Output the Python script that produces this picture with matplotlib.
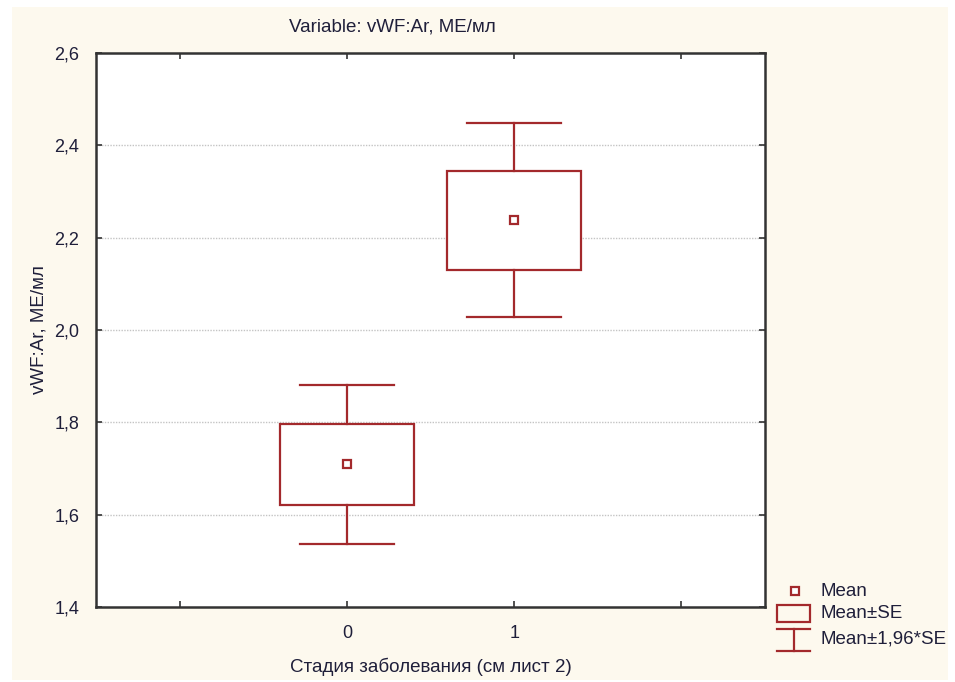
import matplotlib
matplotlib.use("Agg")
import matplotlib.pyplot as plt
from matplotlib.patches import Rectangle
from matplotlib.lines import Line2D
import numpy as np

# group summary: disease stage, mean and standard error of vWF:Ar
stages = [0, 1]
means = [1.709, 2.238]
se = [0.088, 0.107]
yticks = [1.4, 1.6, 1.8, 2.0, 2.2, 2.4, 2.6]

red = "#a3292c"
cream = "#fdf9ee"
txt = "#1f1f3a"

plt.rcParams["font.family"] = ["Liberation Sans", "DejaVu Sans"]

fig = plt.figure(figsize=(9.55, 6.82), dpi=100)
fig.patch.set_facecolor("white")
fig.patches.append(Rectangle((12 / 955, 2 / 682), 936 / 955, 673 / 682,
                             transform=fig.transFigure, facecolor=cream,
                             edgecolor="none", zorder=-10))

ax = fig.add_axes([96 / 955, 75 / 682, 669 / 955, 554 / 682])
ax.set_facecolor("white")
ax.set_xlim(-1.5, 2.5)
ax.set_ylim(1.4, 2.6)

box_w = 0.8
cap_w = 0.56
for x, m, s in zip(stages, means, se):
    lo, hi = m - 1.96 * s, m + 1.96 * s
    ax.add_patch(Rectangle((x - box_w / 2, m - s), box_w, 2 * s, facecolor="white",
                           edgecolor=red, lw=1.6, zorder=3))
    ax.plot([x, x], [m + s, hi], color=red, lw=1.6, zorder=3)
    ax.plot([x, x], [lo, m - s], color=red, lw=1.6, zorder=3)
    ax.plot([x - cap_w / 2, x + cap_w / 2], [hi, hi], color=red, lw=1.6, zorder=3)
    ax.plot([x - cap_w / 2, x + cap_w / 2], [lo, lo], color=red, lw=1.6, zorder=3)
    ax.plot(x, m, marker="s", ms=6, mfc="white", mec=red, mew=1.6, zorder=4)

# dotted horizontal grid at the inner ticks
for y in yticks[1:-1]:
    ax.axhline(y, color="#c4c4c4", lw=1.0, ls=(0, (1, 1)), zorder=1)

ax.set_yticks(yticks)
ax.set_yticklabels([f"{v:.1f}".replace(".", ",") for v in yticks])
ax.set_xticks([-1, 0, 1, 2])
ax.set_xticklabels(["", "0", "1", ""])
ax.tick_params(direction="in", length=4, width=1.2, color="#333333",
               top=True, right=True, labelsize=13, labelcolor=txt)
ax.tick_params(axis="y", pad=12)
ax.tick_params(axis="x", pad=13)
for sp in ax.spines.values():
    sp.set_color("#333333")
    sp.set_linewidth(1.8)

ax.set_xlabel("Стадия заболевания (см лист 2)", fontsize=13.5, color=txt, labelpad=11)
ax.set_ylabel("vWF:Ar, МЕ/мл", fontsize=13.5, color=txt, labelpad=5)
fig.text(392 / 955, 1 - 27 / 682, "Variable: vWF:Ar, МЕ/мл", ha="center", va="center",
         fontsize=13.5, color=txt)

# legend drawn in pixel coordinates
lg = fig.add_axes([0, 0, 1, 1], facecolor="none")
lg.set_xlim(0, 955)
lg.set_ylim(682, 0)
lg.axis("off")
lg.plot(795, 591, marker="s", ms=6, mfc="white", mec=red, mew=1.6)
lg.add_patch(Rectangle((777, 605), 33, 17, facecolor="none", edgecolor=red, lw=1.6))
lg.add_line(Line2D([777, 810], [629, 629], color=red, lw=1.6))
lg.add_line(Line2D([777, 810], [651, 651], color=red, lw=1.6))
lg.add_line(Line2D([793.5, 793.5], [629, 651], color=red, lw=1.6))
for yy, t in zip([591, 613, 639], ["Mean", "Mean±SE", "Mean±1,96*SE"]):
    lg.text(820, yy, t, ha="left", va="center", fontsize=13.5, color=txt)

fig.savefig("out.png", dpi=100)
